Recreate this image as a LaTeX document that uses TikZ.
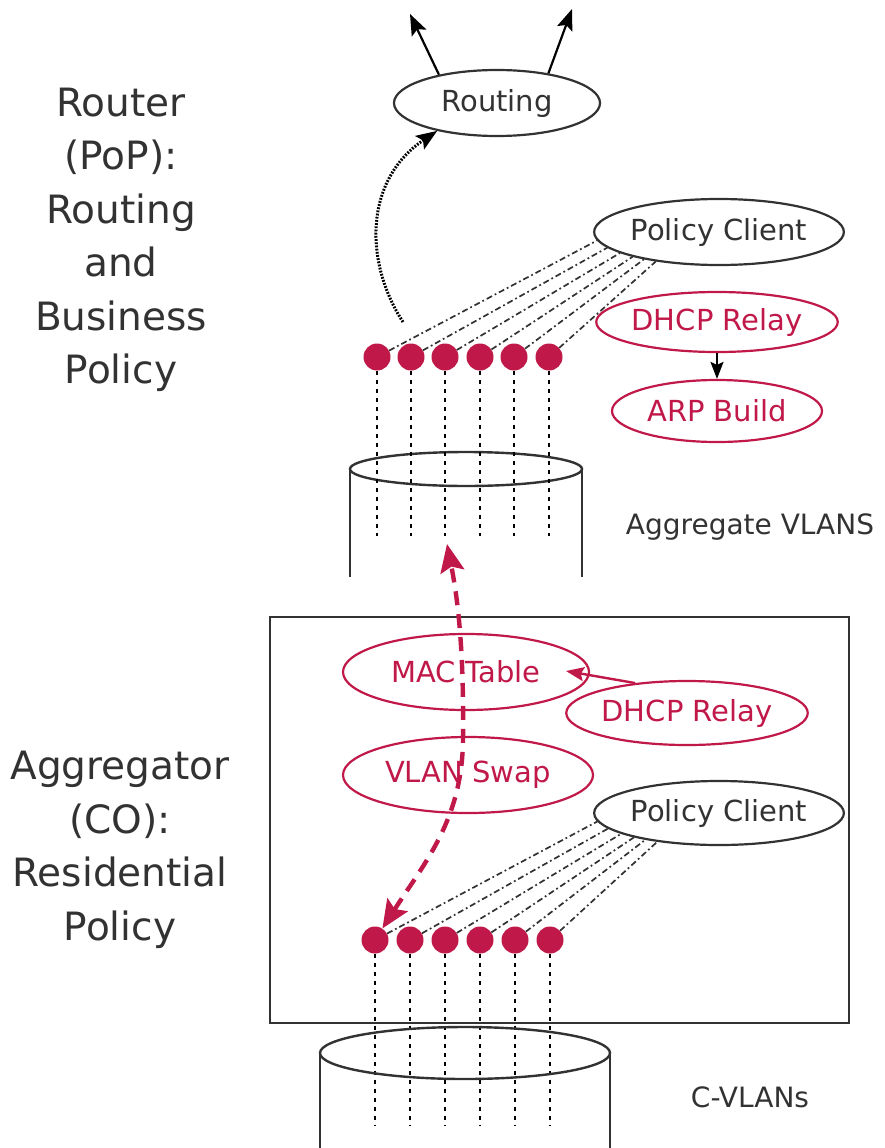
\documentclass[tikz,border=0pt]{standalone}
\usepackage{fontspec}
\setmainfont{DejaVu Sans}
\usetikzlibrary{shapes.geometric,arrows.meta,positioning}
\definecolor{inkgray}{RGB}{50,50,50}
\definecolor{vlanred}{RGB}{192,24,72}
\newcommand{\boxfont}{\fontsize{29}{34}\selectfont}
\newcommand{\sidefont}{\fontsize{39}{53.5}\selectfont}
\newcommand{\tagfont}{\fontsize{28}{32}\selectfont}

\tikzset{
  func/.style={ellipse, draw=inkgray, line width=2.2pt, text=inkgray,
               font=\boxfont, inner sep=0pt},
  redfunc/.style={func, draw=vlanred, text=vlanred},
  vlandot/.style={circle, fill=vlanred, minimum size=27pt, inner sep=0pt},
  polline/.style={inkgray, line width=1.7pt,
                  dash pattern=on 6pt off 3pt on 1.8pt off 3pt},
  vline/.style={black, line width=2.2pt, dash pattern=on 4pt off 5pt},
  cyl/.style={inkgray, line width=2.4pt},
  bighead/.style={-{Stealth[length=21pt,width=16pt,inset=4pt]}},
  outarrow/.style={bighead, line width=2.2pt},
}

\begin{document}
\begin{tikzpicture}[x=1pt,y=-1pt]
  \useasboundingbox (0,0) rectangle (885,1148);

  % side labels
  \node[align=center, font=\sidefont, text=inkgray] (poplab) at (121,240)
    {Router\\(PoP):\\Routing\\and\\Business\\Policy};
  \node[align=center, font=\sidefont, text=inkgray] (colab) at (120,850)
    {Aggregator\\(CO):\\Residential\\Policy};

  % router
  \node[func, minimum width=206pt, minimum height=66pt] (rout) at (497,103) {Routing};
  \coordinate (upl) at (410,14);
  \coordinate (upr) at (572,9);
  \draw[outarrow] (rout.154) -- (upl);
  \draw[outarrow] (rout.30) -- (upr);

  \node[func, minimum width=247pt, minimum height=66pt] (pcu) at (719,232) {Policy Client};
  \node[redfunc, minimum width=210pt, minimum height=60pt] (dhu) at (717,322) {DHCP Relay};
  \node[redfunc, minimum width=210pt, minimum height=62pt] (arp) at (717,411) {ARP Build};
  \draw[-{Stealth[length=17pt,width=13pt,inset=3pt]}, line width=2pt] (dhu) -- (arp);

  % aggregate VLANS cylinder
  \draw[cyl] (350,469) -- (350,577);
  \draw[cyl] (582,469) -- (582,577);
  \draw[cyl] (466,469) ellipse [x radius=116, y radius=17];
  \node[font=\tagfont, text=inkgray] (agglab) at (750,527) {Aggregate VLANS};

  % upper dots
  \foreach \i/\x in {1/377,2/411,3/445,4/480,5/514,6/549} {
    \node[vlandot] (ua\i) at (\x,357) {};
    \coordinate (ub\i) at (\x,536);
    \draw[vline] (ua\i) -- (ub\i);
  }
  \foreach \i/\a in {1/184,2/188,3/192,4/196,5/200,6/205}
    \draw[polline] (ua\i) -- (pcu.\a);

  \coordinate (rt) at (403,322);
  \draw[bighead, line width=3pt, dash pattern=on 1.8pt off 1.4pt]
    (rt) .. controls (364,262) and (364,180) .. (rout.205);

  % aggregator box
  \draw[inkgray, line width=2.6pt] (270,617) rectangle (849,1023);
  \node[redfunc, minimum width=246pt, minimum height=76pt] (mac) at (466,672) {MAC Table};
  \node[redfunc, minimum width=210pt, minimum height=64pt] (dhl) at (687,713) {DHCP Relay};
  \node[redfunc, minimum width=250pt, minimum height=76pt] (swap) at (468,775) {VLAN Swap};
  \node[func, minimum width=247pt, minimum height=64pt] (pcl) at (719,813) {Policy Client};
  \coordinate (macin) at (566,671);
  \draw[vlanred, line width=2.4pt, -{Stealth[length=18pt,width=14pt,inset=3pt]}]
    (dhl.150) -- (macin);

  % lower dots
  \foreach \i/\x in {1/375,2/410,3/445,4/480,5/515,6/550} {
    \node[vlandot] (la\i) at (\x,940) {};
    \coordinate (lb\i) at (\x,1125);
    \draw[vline] (la\i) -- (lb\i);
  }
  \foreach \i/\a in {1/184,2/188,3/192,4/196,5/200,6/205}
    \draw[polline] (la\i) -- (pcl.\a);

  % C-VLANs cylinder
  \draw[cyl] (320,1053) -- (320,1148);
  \draw[cyl] (610,1053) -- (610,1148);
  \draw[cyl] (465,1053) ellipse [x radius=145, y radius=26];
  \node[font=\tagfont, text=inkgray] (cvlab) at (750,1097) {C-VLANs};

  % swap path
  \coordinate (aggin) at (447,544);
  \draw[vlanred, line width=4.4pt, dash pattern=on 14pt off 9pt,
        {Stealth[length=28pt,width=24pt,inset=5pt]}-{Stealth[length=28pt,width=24pt,inset=5pt]}]
    (la1) .. controls (425,862) and (462,820) .. (463,740)
          .. controls (464,650) and (458,600) .. (aggin);
\end{tikzpicture}
\end{document}
